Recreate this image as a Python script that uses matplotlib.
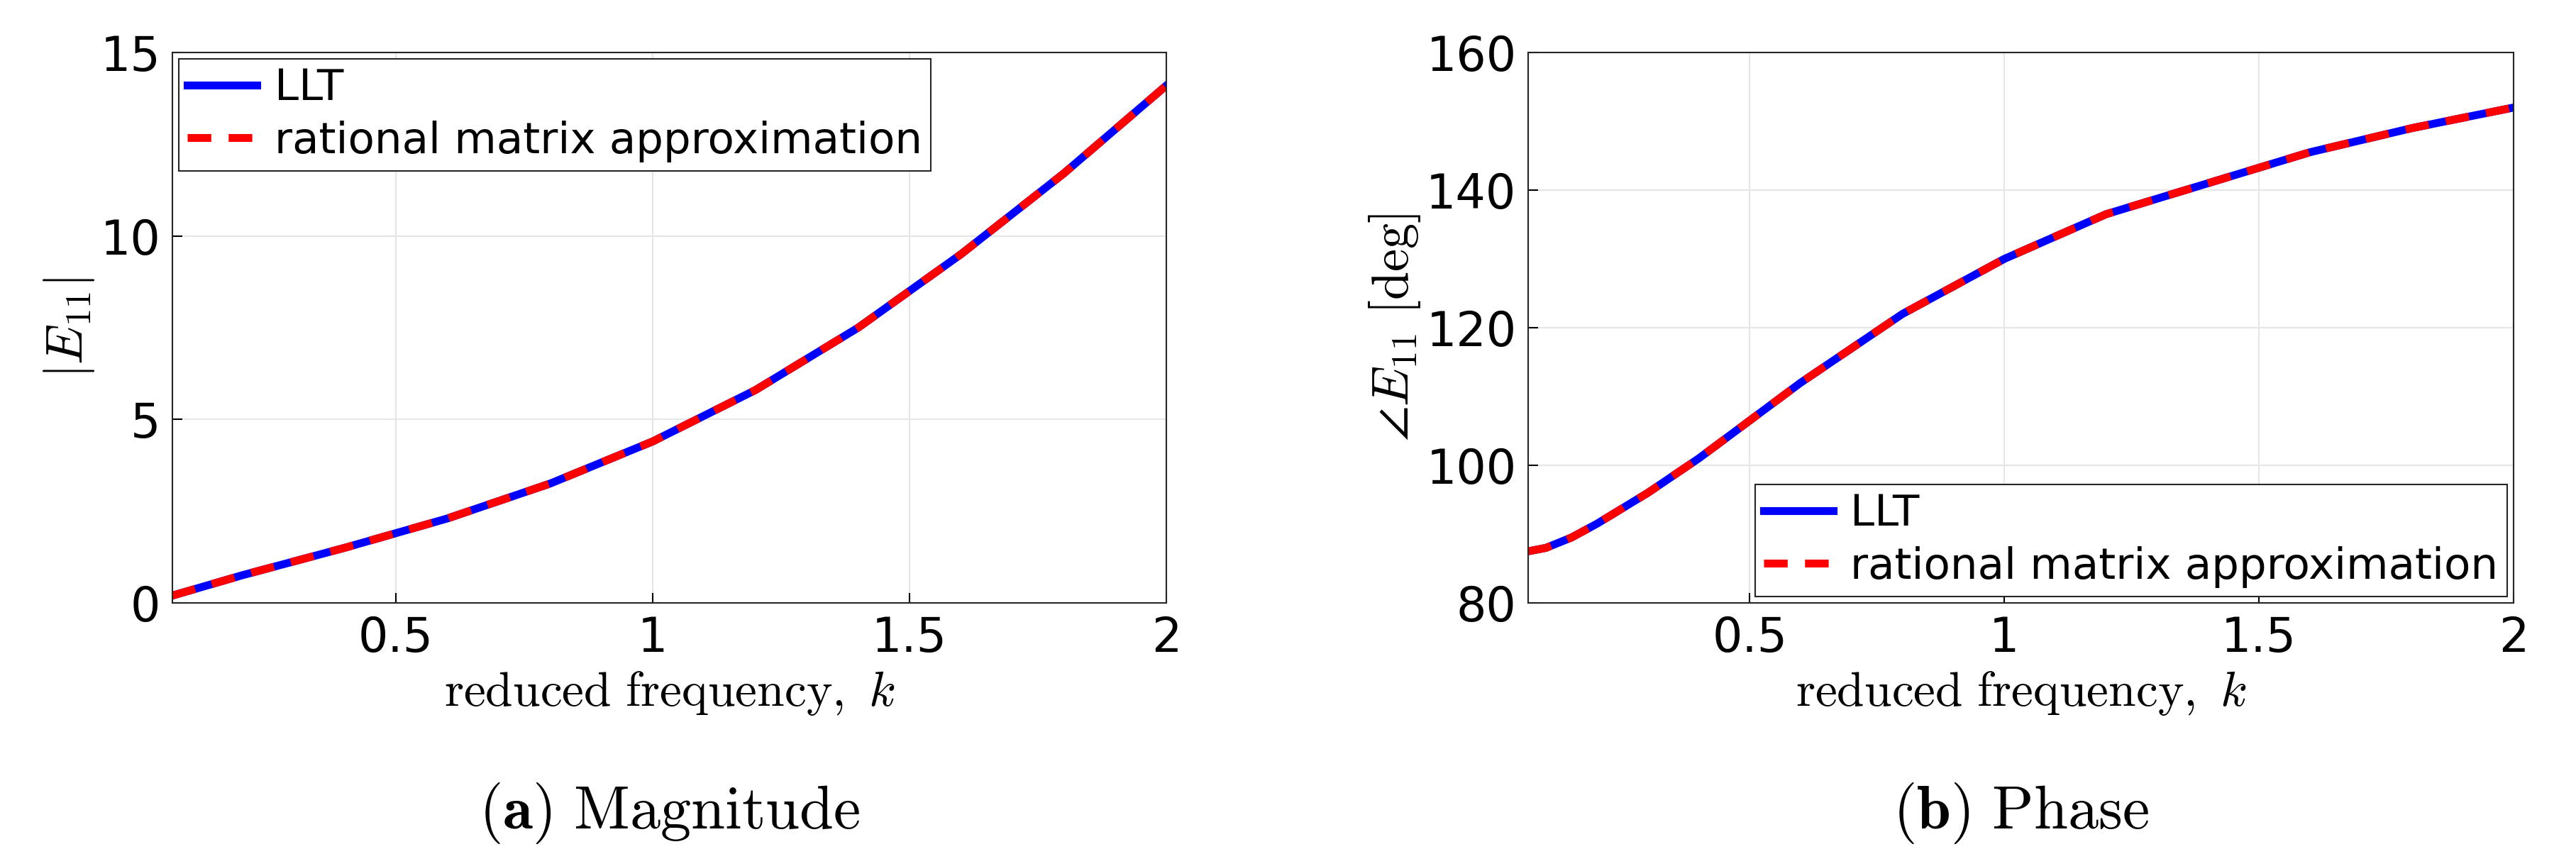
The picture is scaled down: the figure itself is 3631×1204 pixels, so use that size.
import matplotlib
matplotlib.use("Agg")
import matplotlib.pyplot as plt

plt.rcParams['mathtext.fontset'] = 'cm'

k_mag = [0.065, 0.2, 0.4, 0.6, 0.8, 1.0, 1.2, 1.4, 1.6, 1.8, 2.0]
mag = [0.2, 0.75, 1.5, 2.3, 3.25, 4.4, 5.8, 7.5, 9.5, 11.7, 14.1]
k_ph = [0.065, 0.1, 0.15, 0.2, 0.3, 0.4, 0.5, 0.6, 0.8, 1.0, 1.2, 1.4, 1.6, 1.8, 2.0]
phase = [87.5, 88, 89.5, 91.5, 96, 101, 106.5, 112, 122, 130, 136.5, 141, 145.5, 149, 152]

fig = plt.figure(figsize=(36.31, 12.04), dpi=100)
ax1 = fig.add_axes([243/3631, 1-850/1204, 1401/3631, 776/1204])
ax2 = fig.add_axes([2154/3631, 1-850/1204, 1389/3631, 776/1204])

def style(ax, x, y, yl, ylab, loc):
    ax.plot(x, y, color='#0000ff', lw=8, label='LLT')
    ax.plot(x, y, color='#ff0000', lw=8, ls=(0, (3, 2.2)), label='rational matrix approximation')
    ax.set_xlim(0.065, 2)
    ax.set_ylim(*yl)
    ax.set_xticks([0.5, 1, 1.5, 2])
    ax.set_xticklabels(['0.5', '1', '1.5', '2'])
    ax.grid(True, color='#e6e6e6', lw=1.5)
    ax.tick_params(labelsize=48, direction='in', length=10, width=1.5, pad=12)
    for s in ax.spines.values():
        s.set_linewidth(1.5)
        s.set_color('#262626')
    ax.set_xlabel(r'$\mathrm{reduced\ frequency,}\ k$', fontsize=50, labelpad=8)
    ax.set_ylabel(ylab, fontsize=52)
    leg = ax.legend(loc=loc, fontsize=44, fancybox=False, framealpha=1,
                    edgecolor='#262626', handlelength=1.6, handletextpad=0.4,
                    borderpad=0.2, labelspacing=0.25, borderaxespad=0.15)
    leg.get_frame().set_linewidth(1.5)

style(ax1, k_mag, mag, (0, 15), r'$|E_{11}|$', 'upper left')
ax1.set_yticks([0, 5, 10, 15])
style(ax2, k_ph, phase, (80, 160), r'$\angle E_{11}\ \mathrm{[deg]}$', 'lower right')
ax2.set_yticks([80, 100, 120, 140, 160])

fig.text((243+1644)/2/3631, 0.03, r'$(\mathbf{a})\ \mathrm{Magnitude}$', ha='center', fontsize=62)
fig.text((2154+3543)/2/3631, 0.03, r'$(\mathbf{b})\ \mathrm{Phase}$', ha='center', fontsize=62)

fig.savefig('out.png', dpi=100)
